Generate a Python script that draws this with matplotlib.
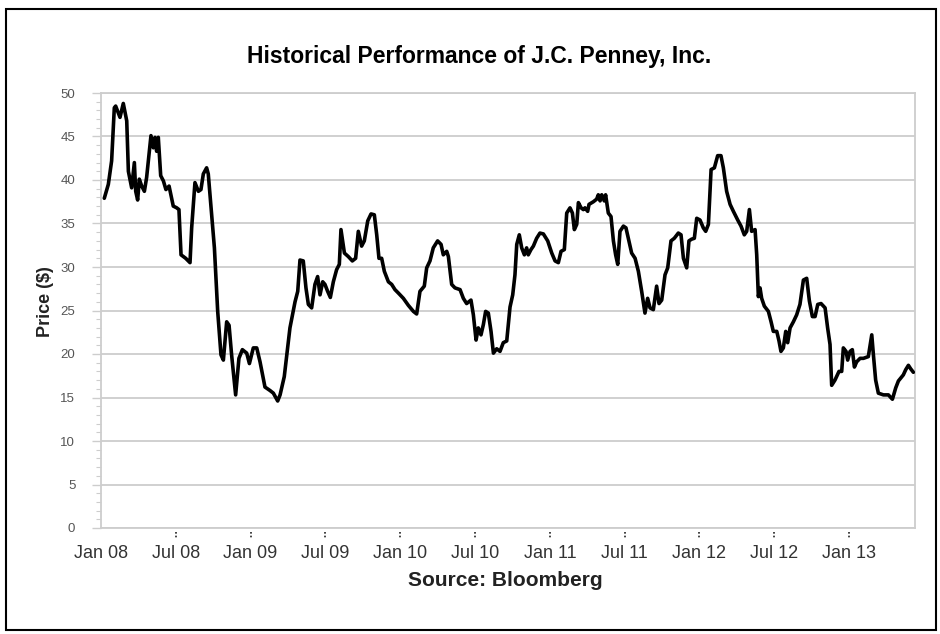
import matplotlib
matplotlib.use('Agg')
import matplotlib.pyplot as plt
from matplotlib.patches import Rectangle

# J.C. Penney share price (decimal years)
years = [
    2008.022, 2008.049, 2008.071, 2008.089, 2008.098, 2008.127, 2008.149, 2008.172,
    2008.183, 2008.205, 2008.223, 2008.232, 2008.245, 2008.256, 2008.272, 2008.290,
    2008.305, 2008.334, 2008.350, 2008.361, 2008.372, 2008.383, 2008.399, 2008.417,
    2008.434, 2008.455, 2008.483, 2008.506, 2008.521, 2008.535, 2008.550, 2008.566,
    2008.595, 2008.606, 2008.628, 2008.651, 2008.668, 2008.684, 2008.706, 2008.717,
    2008.740, 2008.758, 2008.780, 2008.802, 2008.818, 2008.840, 2008.856, 2008.873,
    2008.900, 2008.922, 2008.945, 2008.974, 2008.992, 2009.018, 2009.041, 2009.063,
    2009.096, 2009.130, 2009.152, 2009.181, 2009.197, 2009.225, 2009.263, 2009.297,
    2009.315, 2009.330, 2009.352, 2009.370, 2009.386, 2009.408, 2009.430, 2009.448,
    2009.464, 2009.482, 2009.497, 2009.515, 2009.533, 2009.553, 2009.575, 2009.593,
    2009.604, 2009.627, 2009.653, 2009.680, 2009.702, 2009.720, 2009.742, 2009.760,
    2009.783, 2009.805, 2009.827, 2009.843, 2009.858, 2009.876, 2009.894, 2009.921,
    2009.943, 2009.965, 2009.988, 2010.021, 2010.054, 2010.088, 2010.110, 2010.132,
    2010.161, 2010.177, 2010.199, 2010.221, 2010.250, 2010.273, 2010.288, 2010.311,
    2010.322, 2010.344, 2010.366, 2010.400, 2010.422, 2010.444, 2010.473, 2010.489,
    2010.507, 2010.522, 2010.540, 2010.556, 2010.571, 2010.589, 2010.607, 2010.623,
    2010.645, 2010.667, 2010.689, 2010.712, 2010.734, 2010.752, 2010.767, 2010.779,
    2010.796, 2010.812, 2010.830, 2010.845, 2010.856, 2010.874, 2010.890, 2010.912,
    2010.934, 2010.957, 2010.986, 2011.013, 2011.035, 2011.057, 2011.075, 2011.097,
    2011.113, 2011.135, 2011.151, 2011.164, 2011.180, 2011.191, 2011.209, 2011.224,
    2011.235, 2011.253, 2011.262, 2011.291, 2011.313, 2011.324, 2011.336, 2011.347,
    2011.364, 2011.373, 2011.391, 2011.409, 2011.425, 2011.440, 2011.454, 2011.469,
    2011.492, 2011.509, 2011.529, 2011.547, 2011.570, 2011.592, 2011.614, 2011.636,
    2011.654, 2011.670, 2011.692, 2011.714, 2011.730, 2011.748, 2011.770, 2011.788,
    2011.810, 2011.832, 2011.859, 2011.877, 2011.893, 2011.915, 2011.930, 2011.948,
    2011.966, 2011.982, 2012.004, 2012.026, 2012.042, 2012.060, 2012.078, 2012.100,
    2012.122, 2012.144, 2012.160, 2012.182, 2012.205, 2012.227, 2012.256, 2012.278,
    2012.300, 2012.316, 2012.334, 2012.349, 2012.372, 2012.383, 2012.394, 2012.405,
    2012.416, 2012.434, 2012.461, 2012.479, 2012.494, 2012.517, 2012.532, 2012.545,
    2012.561, 2012.577, 2012.590, 2012.606, 2012.628, 2012.650, 2012.672, 2012.695,
    2012.717, 2012.735, 2012.755, 2012.773, 2012.791, 2012.813, 2012.840, 2012.857,
    2012.873, 2012.884, 2012.906, 2012.933, 2012.951, 2012.962, 2012.980, 2012.991,
    2013.007, 2013.022, 2013.036, 2013.051, 2013.074, 2013.096, 2013.129, 2013.152,
    2013.163, 2013.178, 2013.196, 2013.230, 2013.263, 2013.290, 2013.312, 2013.330,
    2013.363, 2013.379, 2013.397, 2013.412, 2013.430,
]
prices = [
    37.9, 39.5, 42.2, 48.3, 48.5, 47.2, 48.8, 46.8,
    41.0, 39.1, 42.0, 38.7, 37.7, 40.1, 39.3, 38.7,
    40.3, 45.1, 43.7, 44.9, 43.3, 44.9, 40.5, 39.9,
    38.9, 39.3, 37.0, 36.8, 36.6, 31.4, 31.2, 31.0,
    30.5, 34.5, 39.7, 38.7, 38.9, 40.7, 41.4, 40.7,
    36.0, 32.2, 24.9, 19.9, 19.3, 23.7, 23.3, 19.9,
    15.3, 19.5, 20.5, 20.1, 18.9, 20.7, 20.7, 19.1,
    16.2, 15.8, 15.5, 14.6, 15.3, 17.4, 23.0, 26.0,
    27.2, 30.8, 30.7, 27.6, 25.7, 25.3, 28.0, 28.9,
    26.8, 28.3, 28.0, 27.2, 26.5, 28.3, 29.7, 30.3,
    34.3, 31.6, 31.2, 30.7, 31.0, 34.1, 32.4, 33.0,
    35.3, 36.1, 36.0, 33.7, 31.0, 31.0, 29.5, 28.3,
    28.0, 27.4, 27.0, 26.4, 25.6, 24.9, 24.6, 27.2,
    27.8, 29.9, 30.7, 32.2, 33.0, 32.6, 31.4, 31.8,
    31.2, 28.0, 27.6, 27.4, 26.4, 25.8, 26.2, 24.5,
    21.6, 23.0, 22.2, 23.4, 24.9, 24.7, 22.6, 20.1,
    20.6, 20.3, 21.3, 21.5, 25.4, 26.8, 29.1, 32.6,
    33.7, 32.2, 31.4, 32.2, 31.4, 32.0, 32.4, 33.3,
    33.9, 33.8, 33.0, 31.6, 30.7, 30.5, 31.8, 32.0,
    36.2, 36.8, 36.2, 34.3, 34.9, 37.4, 36.8, 36.6,
    36.8, 36.4, 37.2, 37.5, 37.8, 38.3, 37.6, 38.3,
    37.6, 38.3, 36.2, 35.8, 33.0, 31.4, 30.3, 34.1,
    34.7, 34.5, 33.0, 31.6, 31.0, 29.5, 27.2, 24.7,
    26.4, 25.3, 25.1, 27.8, 25.8, 26.2, 29.1, 29.9,
    33.0, 33.3, 33.9, 33.7, 31.0, 29.9, 33.0, 33.2,
    33.3, 35.6, 35.4, 34.5, 34.1, 34.9, 41.2, 41.4,
    42.8, 42.8, 41.4, 38.7, 37.2, 36.4, 35.4, 34.7,
    33.7, 34.1, 36.6, 34.1, 34.3, 31.4, 26.6, 27.6,
    26.4, 25.5, 24.9, 23.7, 22.6, 22.6, 21.5, 20.3,
    20.7, 22.6, 21.3, 23.0, 23.7, 24.5, 25.7, 28.5,
    28.7, 26.1, 24.3, 24.3, 25.7, 25.8, 25.3, 23.0,
    21.1, 16.4, 17.0, 18.0, 18.0, 20.7, 20.3, 19.3,
    20.3, 20.5, 18.5, 19.1, 19.5, 19.5, 19.7, 22.2,
    19.9, 17.0, 15.5, 15.3, 15.3, 14.8, 16.1, 16.9,
    17.6, 18.2, 18.7, 18.3, 17.9,
]

tick_pos = [2008.0, 2008.5, 2009.0, 2009.5, 2010.0, 2010.5,
            2011.0, 2011.5, 2012.0, 2012.5, 2013.0]
tick_labels = ['Jan 08', 'Jul 08', 'Jan 09', 'Jul 09', 'Jan 10', 'Jul 10',
               'Jan 11', 'Jul 11', 'Jan 12', 'Jul 12', 'Jan 13']

plt.rcParams['font.family'] = ['Liberation Sans', 'DejaVu Sans']

fig = plt.figure(figsize=(9.4, 6.34), dpi=100)
ax = fig.add_axes([101 / 940, 1 - 528 / 634, 814 / 940, 435 / 634])

grid_c = '#cdcdcd'
ax.plot(years, prices, color='black', lw=2.6, solid_joinstyle='round',
        solid_capstyle='round', zorder=3)

ax.set_xlim(2008.0, 2013.441)
ax.set_ylim(0, 50)
ax.set_yticks(range(0, 51, 5))
ax.set_yticks(range(0, 51, 1), minor=True)
ax.yaxis.grid(True, which='major', color=grid_c, lw=1.3)
ax.set_axisbelow(True)
for s in ax.spines.values():
    s.set_color(grid_c)
    s.set_linewidth(1.3)

ax.tick_params(axis='y', which='major', length=6.5, width=1.0, color=grid_c,
               labelsize=9.5, labelcolor='#555555', pad=12)
ax.tick_params(axis='y', which='minor', length=3.5, width=0.8, color=grid_c)

ax.set_xticks(tick_pos)
ax.set_xticklabels(tick_labels)
ax.tick_params(axis='x', length=0, labelsize=13, labelcolor='#333333', pad=12)

# dotted tick marks below the x axis
ax.vlines(tick_pos[1:], -0.009, -0.026, transform=ax.get_xaxis_transform(),
          colors='#222222', linestyles=(0, (1, 1.2)), lw=1.2, clip_on=False)

fig.text(479 / 940, 1 - 57 / 634, 'Historical Performance of J.C. Penney, Inc.',
         ha='center', va='center', fontsize=16.5, fontweight='bold')
fig.text(505 / 940, 1 - 580 / 634, 'Source: Bloomberg',
         ha='center', va='center', fontsize=15, fontweight='bold', color='#222222')
fig.text(45 / 940, 1 - 302 / 634, 'Price ($)', rotation=90,
         ha='center', va='center', fontsize=13, fontweight='bold', color='#222222')

# outer frame around the whole picture
fig.patches.append(Rectangle((6 / 940, 1 - 630 / 634), 930 / 940, 621 / 634,
                             transform=fig.transFigure, fill=False,
                             ec='black', lw=1.5))

fig.savefig('out.png', dpi=100)
